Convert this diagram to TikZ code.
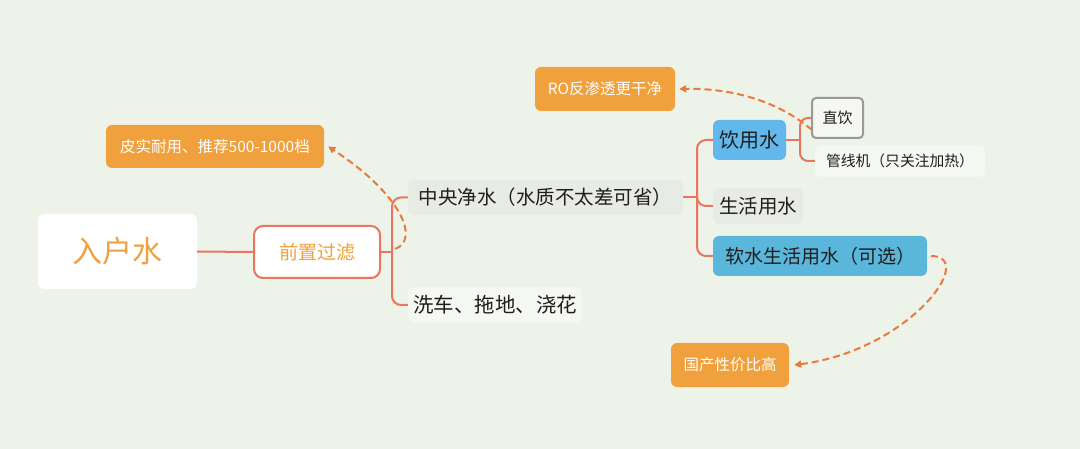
\documentclass[tikz,border=0pt]{standalone}
\usepackage{fontspec}
\setmainfont{Noto Sans CJK SC}
\usetikzlibrary{arrows.meta}
\definecolor{bg}{HTML}{EEF3EA}
\definecolor{orng}{HTML}{F0A03C}
\definecolor{salmon}{HTML}{E8765E}
\definecolor{dashc}{HTML}{E97A3E}
\definecolor{lgrey}{HTML}{E8EBE5}
\definecolor{lwhite}{HTML}{F5F7F2}
\definecolor{blue1}{HTML}{62B8EA}
\definecolor{blue2}{HTML}{5AB6DA}
\definecolor{txt}{HTML}{1E1E1E}
\begin{document}
\begin{tikzpicture}[x=1pt,y=-1pt,
  box/.style={rounded corners=6pt,inner sep=0pt,align=center,text=txt},
  orbox/.style={box,fill=orng,text=white,font=\fontsize{15.5}{18}\selectfont},
  conn/.style={draw=salmon,line width=2pt},
  dashconn/.style={draw=dashc,line width=2pt,dash pattern=on 7pt off 4pt,-{Triangle[length=7pt,width=7pt]}}
]
\useasboundingbox[fill=bg] (0,0) rectangle (1080,449);
% nodes
\node[box,fill=white,text=orng,minimum width=159pt,minimum height=75pt,font=\fontsize{30}{36}\selectfont] (in) at (117.5,251.5) {入户水};
\node[box,fill=white,draw=salmon,line width=2pt,rounded corners=9pt,text=orng,minimum width=126pt,minimum height=52pt,font=\fontsize{19}{23}\selectfont] (pre) at (317,252) {前置过滤};
\node[box,fill=lgrey,minimum width=275pt,minimum height=35pt,font=\fontsize{19.5}{23}\selectfont] (zy) at (545.5,197.5) {中央净水（水质不太差可省）};
\node[box,fill=lwhite,minimum width=174pt,minimum height=36pt,font=\fontsize{20.5}{25}\selectfont] (xc) at (495,305) {洗车、拖地、浇花};
\node[orbox,minimum width=218pt,minimum height=43pt] (px) at (215,146.5) {皮实耐用、推荐500-1000档};
\node[box,fill=blue1,minimum width=73pt,minimum height=40pt,font=\fontsize{20}{24}\selectfont] (yy) at (749.5,140) {饮用水};
\node[box,fill=lgrey,minimum width=90pt,minimum height=36pt,font=\fontsize{19.5}{23}\selectfont] (sh) at (758,206) {生活用水};
\node[box,fill=blue2,minimum width=214pt,minimum height=40pt,font=\fontsize{19}{23}\selectfont] (rs) at (820,256) {软水生活用水（可选）};
\node[box,fill=lwhite,draw=gray!80,line width=2pt,rounded corners=4pt,minimum width=51pt,minimum height=40pt,font=\fontsize{15}{18}\selectfont] (zyin) at (837.5,118) {直饮};
\node[box,fill=lwhite,minimum width=170pt,minimum height=32pt,font=\fontsize{14.8}{18}\selectfont] (gx) at (900,161) {管线机（只关注加热）};
\node[orbox,minimum width=140pt,minimum height=44pt] (ro) at (605,89) {RO反渗透更干净};
\node[orbox,minimum width=118pt,minimum height=44pt] (gc) at (730,365) {国产性价比高};
% bracket points
\coordinate (b1) at (392,252);
\coordinate (b2) at (697,197.5);
\coordinate (b3) at (800,140);
\coordinate (d1) at (395,249);
\coordinate (d2) at (812,130);
\coordinate (d3) at (931,256);
% connectors
\draw[conn] (in.east) -- (pre.west);
\draw[conn] (pre.east) -- (b1);
\draw[conn,rounded corners=9pt] (zy.west) -| (b1) |- (xc.west);
\draw[conn] (zy.east) -- (b2);
\draw[conn,rounded corners=9pt] (yy.west) -| (b2) |- (rs.west);
\draw[conn,rounded corners=9pt] (b2) |- (sh.west);
\draw[conn] (yy.east) -- (b3);
\draw[conn,rounded corners=8pt] (zyin.west) -| (b3) |- (gx.west);
% dashed arrows
\draw[dashconn] (d1) .. controls (420,240) and (402,195) .. ([xshift=4pt]px.east);
\draw[dashconn] (d2) .. controls (775,98) and (725,88) .. ([xshift=4pt]ro.east);
\draw[dashconn] (d3) .. controls (978,256) and (910,350) .. ([xshift=5pt]gc.east);
\end{tikzpicture}
\end{document}
